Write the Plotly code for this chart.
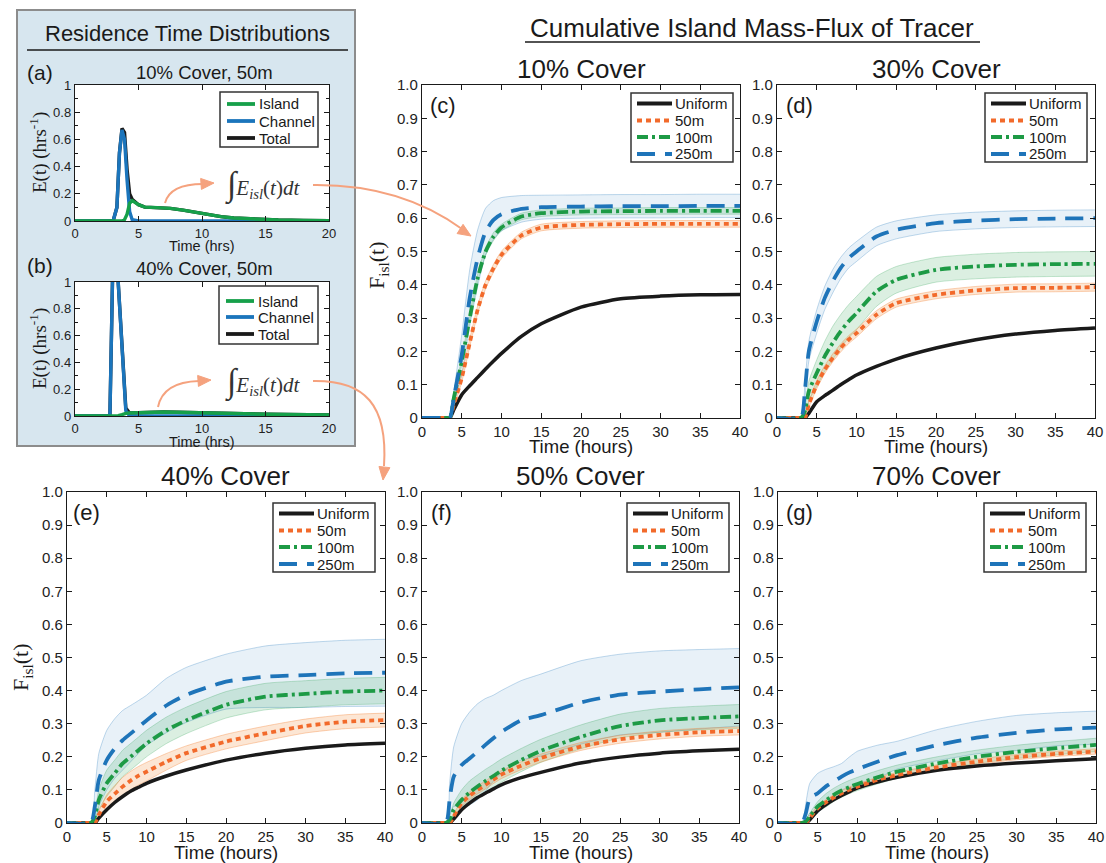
import plotly.graph_objects as go

W, H = 1106, 863

# ---------------------------------------------------------------------------
# Residence time distributions, E(t) in 1/hrs
# ---------------------------------------------------------------------------
T_RTD_A = [0, 3.0, 3.3, 3.5, 3.7, 3.9, 4.1, 4.3, 4.5, 5, 5.5, 6.5, 7.5, 8.5,
           9.5, 10.5, 11.5, 12.5, 14, 16, 18, 20]
A_ISLAND = [0, 0, 0, 0, 0, 0.01, 0.05, 0.13, 0.15, 0.12, 0.102, 0.098, 0.093,
            0.08, 0.062, 0.045, 0.032, 0.022, 0.013, 0.007, 0.004, 0.003]
A_CHANNEL = [0, 0, 0.1, 0.5, 0.67, 0.6, 0.3, 0.07, 0.01, 0, 0, 0, 0, 0, 0, 0,
             0, 0, 0, 0, 0, 0]
A_TOTAL = [0, 0, 0.1, 0.5, 0.68, 0.65, 0.38, 0.2, 0.16, 0.12, 0.102, 0.098,
           0.093, 0.08, 0.062, 0.045, 0.032, 0.022, 0.013, 0.007, 0.004, 0.003]

T_RTD_B = [0, 2.75, 2.95, 3.15, 3.4, 3.7, 4.0, 4.3, 5, 6, 7, 8, 10, 12, 15, 20]
B_ISLAND = [0, 0, 0, 0, 0.003, 0.01, 0.02, 0.022, 0.025, 0.03, 0.03, 0.028,
            0.022, 0.018, 0.013, 0.008]
B_CHANNEL = [0, 0, 1.0, 1.25, 1.0, 0.5, 0.04, 0, 0, 0, 0, 0, 0, 0, 0, 0]
B_TOTAL = [0, 0, 1.0, 1.25, 1.0, 0.51, 0.06, 0.022, 0.025, 0.03, 0.03, 0.028,
           0.022, 0.018, 0.013, 0.008]

# ---------------------------------------------------------------------------
# Cumulative island mass flux F_isl(t): means and band half-widths
# ---------------------------------------------------------------------------
T_HOURS = [0, 3, 3.5, 4, 5, 6, 7, 8, 9, 10, 12.5, 15, 20, 25, 30, 35, 40]

# 10% cover
U_10 = [0, 0, 0, 0.025, 0.07, 0.097, 0.122, 0.147, 0.171, 0.194, 0.245, 0.283, 0.333, 0.358, 0.366, 0.37, 0.371]
M50_10 = [0, 0, 0, 0.04, 0.12, 0.225, 0.325, 0.40, 0.45, 0.49, 0.548, 0.572, 0.58, 0.582, 0.583, 0.583, 0.583]
HW50_10 = [0, 0, 0, 0.008, 0.012, 0.012, 0.012, 0.012, 0.012, 0.011, 0.01, 0.01, 0.01, 0.01, 0.01, 0.01, 0.01]
M100_10 = [0, 0, 0, 0.06, 0.17, 0.30, 0.42, 0.50, 0.545, 0.572, 0.605, 0.615, 0.62, 0.621, 0.622, 0.622, 0.622]
HW100_10 = [0, 0, 0, 0.008, 0.01, 0.012, 0.012, 0.012, 0.012, 0.01, 0.01, 0.01, 0.01, 0.01, 0.01, 0.01, 0.01]
M250_10 = [0, 0, 0, 0.06, 0.19, 0.36, 0.48, 0.56, 0.595, 0.612, 0.628, 0.633, 0.635, 0.636, 0.636, 0.637, 0.637]
HW250_10 = [0, 0, 0, 0.02, 0.06, 0.085, 0.085, 0.07, 0.058, 0.05, 0.04, 0.036, 0.035, 0.035, 0.035, 0.035, 0.035]

# 30% cover
U_30 = [0, 0, 0, 0.014, 0.049, 0.067, 0.083, 0.1, 0.115, 0.129, 0.155, 0.177, 0.21, 0.235, 0.252, 0.263, 0.27]
M50_30 = [0, 0, 0, 0.04, 0.10, 0.145, 0.18, 0.21, 0.235, 0.255, 0.31, 0.345, 0.37, 0.383, 0.39, 0.391, 0.393]
HW50_30 = [0, 0, 0, 0.008, 0.012, 0.012, 0.012, 0.012, 0.012, 0.012, 0.012, 0.012, 0.012, 0.012, 0.012, 0.012, 0.012]
M100_30 = [0, 0, 0.02, 0.08, 0.135, 0.185, 0.225, 0.26, 0.29, 0.315, 0.38, 0.415, 0.445, 0.455, 0.46, 0.462, 0.463]
HW100_30 = [0, 0, 0.01, 0.03, 0.04, 0.045, 0.05, 0.05, 0.05, 0.05, 0.045, 0.04, 0.037, 0.037, 0.037, 0.037, 0.037]
M250_30 = [0, 0, 0.08, 0.2, 0.29, 0.36, 0.41, 0.45, 0.48, 0.5, 0.545, 0.565, 0.585, 0.593, 0.597, 0.599, 0.6]
HW250_30 = [0, 0, 0.02, 0.03, 0.035, 0.035, 0.035, 0.032, 0.03, 0.03, 0.028, 0.027, 0.025, 0.025, 0.025, 0.025, 0.025]

# 40% cover
U_40 = [0, 0, 0, 0.015, 0.04, 0.062, 0.08, 0.096, 0.108, 0.12, 0.142, 0.16, 0.19, 0.211, 0.226, 0.236, 0.241]
M50_40 = [0, 0, 0, 0.025, 0.065, 0.088, 0.11, 0.128, 0.143, 0.155, 0.185, 0.211, 0.246, 0.271, 0.293, 0.306, 0.311]
HW50_40 = [0, 0, 0, 0.01, 0.02, 0.025, 0.028, 0.028, 0.028, 0.028, 0.025, 0.022, 0.022, 0.022, 0.021, 0.021, 0.021]
M100_40 = [0, 0, 0.02, 0.07, 0.12, 0.15, 0.18, 0.2, 0.22, 0.24, 0.28, 0.31, 0.357, 0.382, 0.39, 0.397, 0.4]
HW100_40 = [0, 0, 0.01, 0.03, 0.04, 0.04, 0.04, 0.04, 0.04, 0.04, 0.04, 0.04, 0.04, 0.04, 0.04, 0.04, 0.04]
M250_40 = [0, 0, 0.05, 0.13, 0.19, 0.225, 0.25, 0.27, 0.29, 0.31, 0.355, 0.387, 0.427, 0.442, 0.447, 0.452, 0.454]
HW250_40 = [0, 0, 0.05, 0.08, 0.09, 0.09, 0.09, 0.085, 0.08, 0.076, 0.082, 0.083, 0.083, 0.093, 0.098, 0.1, 0.101]

# 50% cover
U_50 = [0, 0, 0, 0.012, 0.04, 0.06, 0.077, 0.09, 0.103, 0.115, 0.137, 0.153, 0.181, 0.199, 0.211, 0.218, 0.223]
M50_50 = [0, 0, 0, 0.02, 0.06, 0.082, 0.1, 0.115, 0.131, 0.146, 0.173, 0.196, 0.231, 0.253, 0.266, 0.274, 0.278]
HW50_50 = [0, 0, 0, 0.006, 0.01, 0.012, 0.012, 0.012, 0.012, 0.012, 0.012, 0.012, 0.012, 0.012, 0.012, 0.012, 0.012]
M100_50 = [0, 0, 0.01, 0.04, 0.07, 0.092, 0.11, 0.127, 0.142, 0.158, 0.19, 0.218, 0.26, 0.293, 0.31, 0.317, 0.322]
HW100_50 = [0, 0, 0.01, 0.02, 0.03, 0.035, 0.035, 0.035, 0.035, 0.035, 0.035, 0.035, 0.036, 0.036, 0.036, 0.036, 0.036]
M250_50 = [0, 0, 0.075, 0.14, 0.175, 0.195, 0.215, 0.236, 0.256, 0.275, 0.31, 0.326, 0.364, 0.388, 0.397, 0.404, 0.41]
HW250_50 = [0, 0, 0.05, 0.09, 0.125, 0.14, 0.145, 0.14, 0.13, 0.125, 0.12, 0.124, 0.126, 0.122, 0.123, 0.12, 0.117]

# 70% cover
U_70 = [0, 0, 0, 0.01, 0.037, 0.055, 0.07, 0.083, 0.095, 0.106, 0.124, 0.138, 0.159, 0.172, 0.181, 0.188, 0.194]
M50_70 = [0, 0, 0, 0.015, 0.045, 0.062, 0.077, 0.09, 0.101, 0.11, 0.13, 0.145, 0.168, 0.185, 0.199, 0.209, 0.216]
HW50_70 = [0, 0, 0, 0.005, 0.008, 0.008, 0.008, 0.008, 0.008, 0.008, 0.008, 0.008, 0.008, 0.008, 0.008, 0.008, 0.008]
M100_70 = [0, 0, 0.005, 0.02, 0.05, 0.068, 0.085, 0.098, 0.109, 0.118, 0.138, 0.155, 0.18, 0.2, 0.215, 0.226, 0.236]
HW100_70 = [0, 0, 0.005, 0.01, 0.015, 0.02, 0.02, 0.02, 0.02, 0.02, 0.02, 0.02, 0.02, 0.02, 0.02, 0.02, 0.02]
M250_70 = [0, 0, 0.03, 0.075, 0.09, 0.11, 0.125, 0.14, 0.153, 0.163, 0.185, 0.205, 0.235, 0.258, 0.272, 0.283, 0.288]
HW250_70 = [0, 0, 0.03, 0.045, 0.06, 0.052, 0.045, 0.04, 0.047, 0.054, 0.05, 0.042, 0.047, 0.049, 0.053, 0.05, 0.05]

F_TICKS = [0, 0.1, 0.2, 0.3, 0.4, 0.5, 0.6, 0.7, 0.8, 0.9, 1.0]
F_TICKTEXT = ["0", "0.1", "0.2", "0.3", "0.4", "0.5", "0.6", "0.7", "0.8", "0.9", "1.0"]
T_TICKS = [0, 5, 10, 15, 20, 25, 30, 35, 40]
E_TICKS = [0, 0.2, 0.4, 0.6, 0.8, 1.0]
E_TICKTEXT = ["0", "0.2", "0.4", "0.6", "0.8", "1"]
RTD_T_TICKS = [0, 5, 10, 15, 20]

SERIES = ["Uniform", "50m", "100m", "250m"]
RTD_SERIES = ["Island", "Channel", "Total"]

# ---------------------------------------------------------------------------
# styling
# ---------------------------------------------------------------------------
SANS = "Liberation Sans, Arial, Helvetica, sans-serif"
SERIF = "Liberation Serif, Times New Roman, serif"
INK = "#1a1a1a"

C_UNI = "#1a1a1a"
C_50 = "#F26A2B"
C_100 = "#1D9A45"
C_250 = "#1E74B9"
BAND = {
    "50m": ("rgba(243,140,60,0.22)", "rgba(243,130,50,0.45)"),
    "100m": ("rgba(29,154,69,0.16)", "rgba(29,154,69,0.30)"),
    "250m": ("rgba(30,116,185,0.10)", "rgba(30,116,185,0.35)"),
}
STYLE = {
    "Uniform": dict(color=C_UNI, width=3.5, dash="solid"),
    "50m": dict(color=C_50, width=3.8, dash="5px,4px"),
    "100m": dict(color=C_100, width=3.8, dash="11px,4px,3px,4px"),
    "250m": dict(color=C_250, width=3.8, dash="18px,10px"),
}
RTD_STYLE = {
    "Island": dict(color="#16A04A", width=3.4),
    "Channel": dict(color="#1B75BC", width=3.4),
    "Total": dict(color="#1a1a1a", width=3.4),
}
ARROW = "#F5A27E"


def X(p):
    return p / W


def Y(p):
    return 1 - p / H


fig = go.Figure()
shapes = []
annotations = []

# pixel boxes of every axes: (left, top, right, bottom)
BOXES = {
    1: (75, 85, 329, 221),
    2: (75, 282, 329, 416),
    3: (422, 85, 740, 418),
    4: (777, 85, 1095, 418),
    5: (67, 492, 385, 823),
    6: (422, 492, 739, 823),
    7: (778, 492, 1096, 823),
}


def ax_names(i):
    return ("x" if i == 1 else f"x{i}", "y" if i == 1 else f"y{i}")


def axis_common(fs):
    return dict(showline=True, linecolor=INK, linewidth=1.4, mirror="ticks",
                ticks="inside", ticklen=5, tickwidth=1.2, tickcolor=INK,
                showgrid=False, zeroline=False, automargin=False,
                tickfont=dict(family=SANS, size=fs, color="#222"))


layout_axes = {}
for i, (l, t, r, b) in BOXES.items():
    xn, yn = ax_names(i)
    xkey = "xaxis" if i == 1 else f"xaxis{i}"
    ykey = "yaxis" if i == 1 else f"yaxis{i}"
    if i <= 2:
        xa = dict(axis_common(13), domain=[X(l), X(r)], range=[0, 20],
                  tickvals=RTD_T_TICKS, anchor=yn)
        ya = dict(axis_common(13), domain=[Y(b), Y(t)], range=[0, 1],
                  tickvals=E_TICKS, ticktext=E_TICKTEXT, anchor=xn,
                  minor=dict(ticks="inside", dtick=0.1, ticklen=3,
                             tickcolor=INK, showgrid=False))
    else:
        xa = dict(axis_common(15), domain=[X(l), X(r)], range=[0, 40],
                  tickvals=T_TICKS, anchor=yn)
        ya = dict(axis_common(15), domain=[Y(b), Y(t)], range=[0, 1],
                  tickvals=F_TICKS, ticktext=F_TICKTEXT, anchor=xn)
    layout_axes[xkey] = xa
    layout_axes[ykey] = ya

# ---------------------------------------------------------------------------
# residence time panels
# ---------------------------------------------------------------------------
rtd_data = {
    1: (T_RTD_A, {"Island": A_ISLAND, "Channel": A_CHANNEL, "Total": A_TOTAL}),
    2: (T_RTD_B, {"Island": B_ISLAND, "Channel": B_CHANNEL, "Total": B_TOTAL}),
}
for i, (tt, series) in rtd_data.items():
    xn, yn = ax_names(i)
    for name in ["Total", "Channel", "Island"]:
        st = RTD_STYLE[name]
        fig.add_trace(go.Scatter(x=tt, y=series[name], mode="lines", name=name,
                                 xaxis=xn, yaxis=yn, showlegend=False,
                                 line=dict(color=st["color"], width=st["width"])))

# ---------------------------------------------------------------------------
# cumulative flux panels
# ---------------------------------------------------------------------------
flux_data = {
    3: (U_10, {"50m": (M50_10, HW50_10), "100m": (M100_10, HW100_10), "250m": (M250_10, HW250_10)}),
    4: (U_30, {"50m": (M50_30, HW50_30), "100m": (M100_30, HW100_30), "250m": (M250_30, HW250_30)}),
    5: (U_40, {"50m": (M50_40, HW50_40), "100m": (M100_40, HW100_40), "250m": (M250_40, HW250_40)}),
    6: (U_50, {"50m": (M50_50, HW50_50), "100m": (M100_50, HW100_50), "250m": (M250_50, HW250_50)}),
    7: (U_70, {"50m": (M50_70, HW50_70), "100m": (M100_70, HW100_70), "250m": (M250_70, HW250_70)}),
}
SM = 0.6
for i, (uni, spaced) in flux_data.items():
    xn, yn = ax_names(i)
    # shaded spread bands
    for name in ["250m", "100m", "50m"]:
        mean, hw = spaced[name]
        lo = [m - h for m, h in zip(mean, hw)]
        hi = [m + h for m, h in zip(mean, hw)]
        fill, edge = BAND[name]
        fig.add_trace(go.Scatter(x=T_HOURS, y=lo, mode="lines", xaxis=xn, yaxis=yn,
                                 line=dict(color=edge, width=0.8, shape="spline", smoothing=SM),
                                 showlegend=False, hoverinfo="skip"))
        fig.add_trace(go.Scatter(x=T_HOURS, y=hi, mode="lines", xaxis=xn, yaxis=yn,
                                 fill="tonexty", fillcolor=fill,
                                 line=dict(color=edge, width=0.8, shape="spline", smoothing=SM),
                                 showlegend=False, hoverinfo="skip"))
    # mean curves
    curves = {"Uniform": uni, "50m": spaced["50m"][0],
              "100m": spaced["100m"][0], "250m": spaced["250m"][0]}
    for name in SERIES:
        st = STYLE[name]
        fig.add_trace(go.Scatter(x=T_HOURS, y=curves[name], mode="lines", name=name,
                                 xaxis=xn, yaxis=yn, showlegend=False,
                                 line=dict(color=st["color"], width=st["width"],
                                           dash=st["dash"], shape="spline", smoothing=SM)))

# ---------------------------------------------------------------------------
# decorations
# ---------------------------------------------------------------------------
def text(x, y, s, size, family=SANS, color=INK, angle=0, xanchor="center"):
    annotations.append(dict(x=X(x), y=Y(y), xref="paper", yref="paper", text=s,
                            showarrow=False, xanchor=xanchor, yanchor="middle",
                            textangle=angle,
                            font=dict(family=family, size=size, color=color)))


# framed background of the residence-time panels
shapes.append(dict(type="rect", xref="paper", yref="paper", layer="below",
                   x0=X(17), x1=X(355), y0=Y(446), y1=Y(10),
                   fillcolor="#D7E6EF", line=dict(color="#8C8C8C", width=2)))
for i in (1, 2):
    l, t, r, b = BOXES[i]
    shapes.append(dict(type="rect", xref="paper", yref="paper", layer="below",
                       x0=X(l), x1=X(r), y0=Y(b), y1=Y(t),
                       fillcolor="white", line=dict(width=0)))

# headings with underlines
text(187, 33, "Residence Time Distributions", 22)
shapes.append(dict(type="line", xref="paper", yref="paper", x0=X(27), x1=X(348),
                   y0=Y(50), y1=Y(50), line=dict(color=INK, width=1.6)))
text(752, 28, "Cumulative Island Mass-Flux of Tracer", 26)
shapes.append(dict(type="line", xref="paper", yref="paper", x0=X(525), x1=X(980),
                   y0=Y(42), y1=Y(42), line=dict(color=INK, width=1.6)))

# residence-time panel texts
text(40, 73, "(a)", 21)
text(204, 72, "10% Cover, 50m", 18.5)
text(40, 265, "(b)", 21)
text(204, 268, "40% Cover, 50m", 18.5)
text(202, 246, "Time (hrs)", 14.5)
text(202, 442, "Time (hrs)", 14.5)
text(38, 153, "E(t) (hrs<sup>-1</sup>)", 19, family=SERIF, angle=-90)
text(38, 349, "E(t) (hrs<sup>-1</sup>)", 19, family=SERIF, angle=-90)
integral = ("<span style='font-size:34px'>∫</span><i>E</i><sub><i>isl</i></sub>"
            "(<i>t</i>)<i>dt</i>")
text(262, 185, integral, 21, family=SERIF, color="#333")
text(262, 382, integral, 21, family=SERIF, color="#333")

# flux panel texts
titles = {3: (581, 69, "10% Cover", "(c)", 443, 105),
          4: (936, 69, "30% Cover", "(d)", 799, 105),
          5: (225, 476, "40% Cover", "(e)", 86, 512),
          6: (580, 476, "50% Cover", "(f)", 441, 512),
          7: (937, 476, "70% Cover", "(g)", 799, 512)}
for i, (tx, ty, title, letter, lx, ly) in titles.items():
    text(tx, ty, title, 26)
    text(lx, ly, letter, 22)
    l, t, r, b = BOXES[i]
    text((l + r) / 2, b + (28 if b < 500 else 29), "Time (hours)", 18.5)
text(378, 265, "F<sub>isl</sub>(t)", 22, family=SERIF, angle=-90)
text(22, 667, "F<sub>isl</sub>(t)", 22, family=SERIF, angle=-90)


# hand-made legend boxes
def legend_box(left, top, w, h, names, styles, rows, s0, s1, tx, fs):
    shapes.append(dict(type="rect", xref="paper", yref="paper",
                       x0=X(left), x1=X(left + w), y0=Y(top + h), y1=Y(top),
                       fillcolor="white", line=dict(color="#333", width=1.5)))
    for name, dy in zip(names, rows):
        st = styles[name]
        shapes.append(dict(type="line", xref="paper", yref="paper",
                           x0=X(left + s0), x1=X(left + s1),
                           y0=Y(top + dy), y1=Y(top + dy),
                           line=dict(color=st["color"], width=3.8,
                                     dash=st.get("dash", "solid"))))
        text(left + tx, top + dy, name, fs, xanchor="left")


for (lx, ly) in [(631, 93), (985, 93), (273, 503), (627, 503), (984, 503)]:
    legend_box(lx, ly, 102, 69, SERIES, STYLE, [10.5, 27.5, 44, 61], 6, 41, 42, 15)
legend_box(220, 92, 98, 55, RTD_SERIES, RTD_STYLE, [12, 29, 46], 7, 35, 37, 15)
legend_box(219, 286, 99, 58, RTD_SERIES, RTD_STYLE, [15, 31, 48], 7, 35, 37, 15)


# curved connector arrows
def curve(d_pts, kind):
    # d_pts: list of pixel points, kind 'Q' or 'C'
    p0 = d_pts[0]
    path = f"M {X(p0[0])},{Y(p0[1])} {kind} " + " ".join(
        f"{X(x)},{Y(y)}" for x, y in d_pts[1:])
    shapes.append(dict(type="path", xref="paper", yref="paper", path=path,
                       line=dict(color=ARROW, width=2)))


def head(tip, frm, length=13, width=11):
    dx, dy = tip[0] - frm[0], tip[1] - frm[1]
    n = (dx * dx + dy * dy) ** 0.5
    ux, uy = dx / n, dy / n
    bx, by = tip[0] - ux * length, tip[1] - uy * length
    px_, py_ = -uy, ux
    p1 = (bx + px_ * width / 2, by + py_ * width / 2)
    p2 = (bx - px_ * width / 2, by - py_ * width / 2)
    path = (f"M {X(tip[0])},{Y(tip[1])} L {X(p1[0])},{Y(p1[1])} "
            f"L {X(p2[0])},{Y(p2[1])} Z")
    shapes.append(dict(type="path", xref="paper", yref="paper", path=path,
                       fillcolor=ARROW, line=dict(color=ARROW, width=1)))


curve([(165, 203), (170, 184), (203, 184)], "Q")
head((214, 183), (200, 184))
curve([(313, 185), (400, 184), (462, 229)], "Q")
head((471, 236), (440, 216))
curve([(158, 407), (163, 382), (199, 381)], "Q")
head((211, 380), (197, 381))
curve([(313, 381), (365, 380), (388, 405), (384, 466)], "C")
head((383, 480), (385, 462))

fig.update_layout(template="none", width=W, height=H,
                  margin=dict(l=0, r=0, t=0, b=0, pad=0, autoexpand=False),
                  paper_bgcolor="white", plot_bgcolor="white",
                  showlegend=False, shapes=shapes, annotations=annotations,
                  **layout_axes)

fig.write_html("out.html")
